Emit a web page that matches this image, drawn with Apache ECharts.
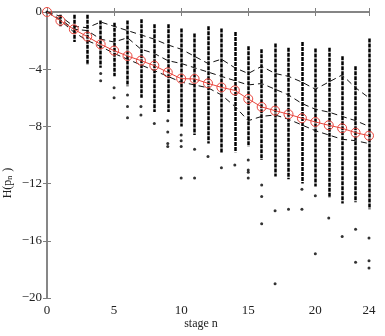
<!DOCTYPE html>
<html>
<head>
<meta charset="utf-8">
<script src="https://cdn.jsdelivr.net/npm/echarts@6/dist/echarts.min.js"></script>
<style>
    html, body { margin: 0; padding: 0; background: #fff; }
    #main { width: 385px; height: 336px; }
</style>
</head>
<body>
<div id="main"></div>
<script>
    // stage index on the x axis
    const stages = [0,1,2,3,4,5,6,7,8,9,10,11,12,13,14,15,16,17,18,19,20,21,22,23,24];
    // red curve (mean entropy)
    const meanH = [0,-0.61,-1.21,-1.72,-2.26,-2.7,-3.08,-3.4,-3.75,-4.22,-4.66,-4.68,-4.99,-5.27,-5.48,-6.08,-6.64,-6.9,-7.15,-7.43,-7.69,-7.92,-8.13,-8.44,-8.65];
    // dense columns of sample points: top and bottom of each column
    const colTop = [0,-0.2,-0.2,-0.2,-0.6,-0.75,-0.6,-0.5,-0.85,-0.85,-1.15,-1.5,-1.0,-1.15,-1.4,-2.4,-2.6,-2.2,-2.5,-2.1,-2.55,-2.5,-3.1,-3.8,-1.85];
    const colBottom = [0,-1.0,-2.1,-3.7,-3.9,-4.5,-5.2,-6.0,-7.0,-7.0,-8.0,-8.6,-9.2,-9.9,-9.8,-9.4,-10.35,-11.5,-11.7,-12.0,-12.2,-13.0,-13.4,-13.3,-13.8];
    // isolated sample points below the columns
    const outliers = [
        [0,0],[4,-4.3],[4,-4.8],[5,-5.3],[5,-6.0],[6,-5.8],[6,-6.6],[6,-7.4],[7,-6.6],[7,-7.2],[8,-7.8],
        [9,-7.6],[9,-8.4],[9,-9.2],[9,-9.4],[10,-8.6],[10,-9.0],[10,-9.4],[10,-11.6],[11,-9.6],[11,-11.6],
        [12,-10.1],[13,-10.9],[14,-10.7],[15,-10.35],[15,-11.05],[15,-11.2],[15,-11.6],
        [16,-12.1],[16,-12.9],[16,-14.8],[17,-13.9],[17,-19.0],[18,-13.8],[19,-12.4],[19,-13.8],
        [20,-12.85],[20,-16.9],[21,-14.4],[22,-15.7],[23,-15.2],[23,-17.5],[24,-15.8],[24,-17.4],[24,-17.9]
    ];
    // dashed sample trajectories
    const dashUpper = [0,-0.3,-1.0,-1.1,-0.7,-1.0,-1.3,-1.6,-1.9,-2.3,-2.6,-3.1,-3.6,-3.3,-3.9,-4.3,-3.8,-4.3,-4.5,-4.9,-5.4,-4.9,-4.4,-5.3,-6.0];
    const dashMiddle = [0,-0.5,-1.2,-1.3,-1.9,-2.1,-1.8,-2.6,-2.9,-3.4,-3.6,-3.9,-4.2,-4.5,-4.8,-5.1,-5.0,-5.4,-5.8,-6.4,-6.8,-7.0,-7.3,-7.6,-8.0];
    const dashLower = [0,-0.6,-1.4,-2.0,-2.4,-2.9,-3.3,-3.7,-4.1,-4.5,-4.9,-5.1,-5.3,-5.8,-6.6,-7.6,-7.3,-7.2,-7.5,-7.9,-8.3,-8.6,-8.9,-9.0,-9.2];
    const xTicks = [0,5,10,15,20,24];
    const yTicks = [0,-4,-8,-12,-16,-20];

    const myChart = echarts.init(document.getElementById('main'));
    const font = 'Liberation Serif';
    const axisGray = '#7f7f7f';
    const red = '#e8453c';

    const pairs = arr => stages.map((s, i) => [s, arr[i]]);
    const columns = stages.filter((s, i) => colTop[i] !== colBottom[i])
        .map(s => ({coords: [[s, colTop[s]], [s, colBottom[s]]]}));

    const dashSeries = [dashUpper, dashMiddle, dashLower].map(d => ({
        type: 'line',
        data: pairs(d),
        symbol: 'none',
        lineStyle: {color: '#111', width: 1, type: [6, 4]},
        z: 3
    }));

    const xBase = {
        type: 'value', min: 0, max: 24,
        splitLine: {show: false},
        axisLine: {lineStyle: {color: axisGray, width: 1.5}},
        axisTick: {inside: true, length: 4, customValues: xTicks, lineStyle: {color: axisGray}}
    };
    const yBase = {
        type: 'value', min: -20, max: 0,
        splitLine: {show: false},
        axisLine: {lineStyle: {color: axisGray, width: 1.5}},
        axisTick: {inside: true, length: 4, customValues: yTicks, lineStyle: {color: axisGray}}
    };

    const option = {
        animation: false,
        grid: {left: 47, top: 12, right: 16, bottom: 38, outerBoundsMode: 'none', containLabel: false},
        xAxis: [
            Object.assign({}, xBase, {
                position: 'bottom',
                name: 'stage n',
                nameLocation: 'middle',
                nameGap: 20,
                nameMoveOverlap: false,
                nameTextStyle: {fontFamily: font, fontSize: 12, color: '#222', padding: [0, 14, 0, 0]},
                axisLabel: {customValues: xTicks, fontFamily: font, fontSize: 13, color: '#222', margin: 6}
            }),
            Object.assign({}, xBase, {position: 'top', axisLabel: {show: false}})
        ],
        yAxis: [
            Object.assign({}, yBase, {
                position: 'left',
                name: 'H(p{sub|n})',
                nameLocation: 'middle',
                nameGap: 33,
                nameMoveOverlap: false,
                nameRotate: 90,
                nameTextStyle: {
                    fontFamily: font, fontSize: 12, color: '#222',
                    padding: [0, 56, 0, 0],
                    rich: {sub: {fontFamily: font, fontSize: 8, color: '#222', verticalAlign: 'bottom', padding: [0, 4, 0, 0]}}
                },
                axisLabel: {
                    customValues: yTicks, fontFamily: font, fontSize: 13, color: '#222', margin: 5,
                    formatter: v => (v < 0 ? '\u2212' + (-v) : '' + v)
                }
            }),
            Object.assign({}, yBase, {position: 'right', axisLabel: {show: false}})
        ],
        series: [
            {
                type: 'lines',
                coordinateSystem: 'cartesian2d',
                data: columns,
                lineStyle: {color: '#000', width: 2.5, type: [4, 1], opacity: 1},
                z: 2
            },
            {
                type: 'scatter',
                data: outliers,
                symbol: 'circle',
                symbolSize: 3,
                itemStyle: {color: '#000'},
                z: 2
            },
            ...dashSeries,
            {
                type: 'line',
                data: pairs(meanH),
                symbol: 'circle',
                symbolSize: 9,
                showAllSymbol: true,
                lineStyle: {color: red, width: 1},
                itemStyle: {color: 'rgba(0,0,0,0)', borderColor: red, borderWidth: 1},
                z: 5
            }
        ]
    };
    myChart.setOption(option);
</script>
</body>
</html>
